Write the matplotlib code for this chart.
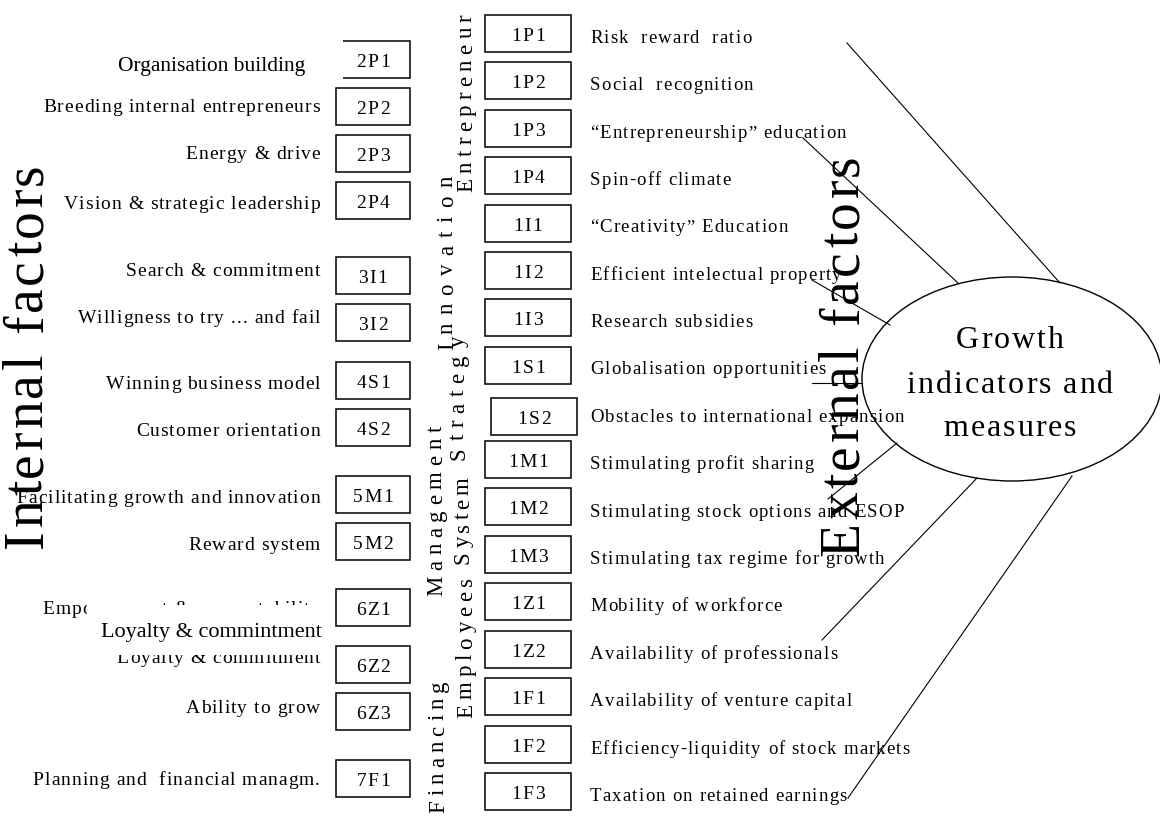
import matplotlib
matplotlib.use('Agg')
import matplotlib.pyplot as plt
from matplotlib.patches import Rectangle, Ellipse
from matplotlib.font_manager import FontProperties, findfont, get_font

FAMILY = 'Liberation Serif'

# ---------------- content ----------------
left_codes = ['2P1', '2P2', '2P3', '2P4', '3I1', '3I2', '4S1', '4S2',
              '5M1', '5M2', '6Z1', '6Z2', '6Z3', '7F1']
left_labels = ['', 'Breeding internal entrepreneurs', 'Energy & drive',
               'Vision & strategic leadership', 'Search & commitment',
               'Willigness to try ... and fail', 'Winning business model',
               'Customer orientation', 'Facilitating growth and innovation',
               'Reward system', 'Empowerment & accountability',
               'Loyalty & commitment', 'Ability to grow',
               'Planning and  financial managm.']
overlay_labels = ['Organisation building', 'Loyalty & commintment']

right_codes = ['1P1', '1P2', '1P3', '1P4', '1I1', '1I2', '1I3', '1S1', '1S2',
               '1M1', '1M2', '1M3', '1Z1', '1Z2', '1F1', '1F2', '1F3']
right_labels = ['Risk  reward  ratio', 'Social  recognition',
                '\u201cEntrepreneurship\u201d education', 'Spin-off climate',
                '\u201cCreativity\u201d Education', 'Efficient intelectual property',
                'Research subsidies', 'Globalisation opportunities',
                'Obstacles to international expansion',
                'Stimulating profit sharing', 'Stimulating stock options and ESOP',
                'Stimulating tax regime for growth', 'Mobility of workforce',
                'Availability of professionals', 'Availability of venture capital',
                'Efficiency-liquidity of stock markets',
                'Taxation on retained earnings']

category_labels = ['Entrepreneur', 'Innovation', 'Strategy', 'Management',
                   'System', 'Employees', 'Financing']
side_titles = ['Internal factors', 'External factors']
center_lines = ['Growth', 'indicators and', 'measures']

# ---------------- layout (pixels) ----------------
W, H = 1160, 819
left_box_top = [41, 88, 135, 182, 257, 304, 362, 409, 476, 523, 589, 646, 693, 760]
left_label_cy = [66, 106, 153, 203, 270, 317, 383, 430, 497, 544, 608, 657, 707, 779]
right_box_top = [15, 62, 110, 157, 205, 252, 299, 347, 398, 441, 488, 536, 583,
                 631, 678, 726, 773]
right_label_cy = [37, 84, 132, 179, 226, 274, 321, 368, 416, 463, 511, 558, 605,
                  653, 700, 748, 795]
cat_base_x = [472, 453, 464, 442, 469, 472, 444]
cat_bottom = [192, 350, 460, 596, 564, 718, 813]
cat_top = [14, 176, 336, 426, 477, 577, 681]
connectors = [((847, 43), (1060, 283)), ((803, 138), (958, 283)),
              ((812, 280), (890, 325)), ((812, 383), (862, 383)),
              ((897, 443), (828, 499)), ((977, 478), (822, 640)),
              ((1072, 476), (848, 798))]

fig = plt.figure(figsize=(W / 100, H / 100), dpi=100)
ax = fig.add_axes([0, 0, 1, 1])
ax.set_xlim(0, W)
ax.set_ylim(H, 0)
ax.axis('off')

_font = get_font(findfont(FontProperties(family=FAMILY)))


def advances(s, size):
    _font.set_size(size, 100)
    return [_font.load_char(ord(c)).linearHoriAdvance / 65536 for c in s]


def baseline(cy, size):
    return cy + 0.655 * size * 100 / 72 / 2


def spaced(x, y, s, size, track=0.0, span=None, ha='left', vertical=False, z=3):
    adv = advances(s, size)
    nat = sum(adv)
    if span is not None and len(s) > 1:
        track = (span - nat) / (len(s) - 1)
    total = nat + track * (len(s) - 1)
    pos = {'left': 0.0, 'center': -total / 2, 'right': -total}[ha]
    for c, a in zip(s, adv):
        if c != ' ':
            mid = pos + a / 2
            if vertical:
                ax.text(x, y - mid, c, rotation=90, rotation_mode='anchor',
                        ha='center', va='baseline', fontsize=size,
                        family=FAMILY, color='black', zorder=z)
            else:
                ax.text(x + mid, y, c, ha='center', va='baseline',
                        fontsize=size, family=FAMILY, color='black', zorder=z)
        pos += a + track


LW = 1.1
# left column boxes
for code, top, lab, cy in zip(left_codes, left_box_top, left_labels, left_label_cy):
    ax.add_patch(Rectangle((336, top), 74, 37, fill=False, ec='black', lw=LW, zorder=2))
    spaced(373, baseline(top + 20, 14), code, 14, track=1.5, ha='center')
    if lab:
        spaced(320, baseline(cy, 14), lab, 14, track=1.0, ha='right')

# right column boxes
for code, top, lab, cy in zip(right_codes, right_box_top, right_labels, right_label_cy):
    x0 = 491 if code == '1S2' else 485
    ax.add_patch(Rectangle((x0, top), 86, 37, fill=False, ec='black', lw=LW, zorder=2))
    spaced(x0 + 43, baseline(top + 20, 14), code, 14, track=1.5, ha='center')
    spaced(590, baseline(cy, 13.5), lab, 13.5, track=1.2, ha='left')

# category labels (vertical)
for name, bx, yb, yt in zip(category_labels, cat_base_x, cat_bottom, cat_top):
    spaced(bx, yb, name, 16.5, span=yb - yt, vertical=True)

# big side titles
spaced(42, 548, side_titles[0], 40, span=548 - 163, vertical=True, z=4)
spaced(858, 556, side_titles[1], 40, span=556 - 154, vertical=True, z=4)

# overlays with white background
ax.add_patch(Rectangle((105, 38), 238, 46, fc='white', ec='none', zorder=5))
ax.text(212, 66, overlay_labels[0], ha='center', va='center', fontsize=15.5,
        family=FAMILY, color='black', zorder=6)
ax.add_patch(Rectangle((87, 605), 239, 50, fc='white', ec='none', zorder=5))
ax.text(211, 632, overlay_labels[1], ha='center', va='center', fontsize=16,
        family=FAMILY, color='black', zorder=6)

# ellipse and its text
ax.add_patch(Ellipse((1012, 379), 300, 204, fill=False, ec='black', lw=1.0, zorder=1))
for s, yb in zip(center_lines, [348, 393, 436]):
    spaced(1010, yb, s, 23, track=2.0, ha='center', z=8)

# connector lines
for (p0, p1) in connectors:
    ax.plot([p0[0], p1[0]], [p0[1], p1[1]], color='black', lw=0.8, zorder=9)

fig.savefig('out.png', dpi=100)
